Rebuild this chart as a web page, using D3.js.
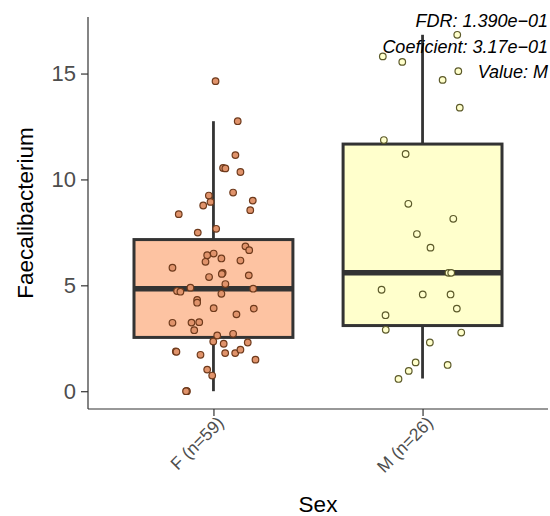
<!DOCTYPE html>
<html>
<head>
<meta charset="utf-8">
<script src="https://cdn.jsdelivr.net/npm/d3@7"></script>
<style>
  body { margin: 0; background: #fff; }
  svg text { font-family: "Liberation Sans", Arial, Helvetica, sans-serif; }
</style>
</head>
<body>
<div id="chart"></div>
<script>
// categories on x axis
const categories = ["F (n=59)", "M (n=26)"];
const boxFills = ["#fdc3a2", "#ffffcc"];
const pointFills = ["#e0936b", "#ffffcc"];
const pointStrokes = ["#6e3a1c", "#5c5a2a"];

// box stats: [lower whisker, q1, median, q3, upper whisker]
const boxF = [0, 2.54, 4.84, 7.16, 12.75];
const boxM = [0.6, 3.10, 5.59, 11.67, 16.83];

// jittered points: [x jitter (category units), value]
const pointsF = [
  [0.010, 14.64], [0.116, 12.75], [0.105, 11.15], [0.046, 10.54], [0.057, 10.52],
  [0.129, 10.35], [0.094, 9.38], [-0.022, 9.24], [-0.014, 8.94], [-0.049, 8.77],
  [0.188, 9.00], [0.176, 8.55], [-0.166, 8.36], [0.013, 7.67], [-0.075, 7.49],
  [0.153, 6.84], [0.171, 6.66], [-0.030, 6.42], [0.001, 6.50], [0.038, 6.27],
  [-0.038, 6.11], [0.129, 6.17], [-0.196, 5.83], [0.044, 5.59], [0.040, 5.54],
  [-0.021, 5.39], [0.169, 5.47], [0.057, 5.06], [-0.174, 4.73], [-0.158, 4.70],
  [-0.110, 4.89], [0.190, 4.84], [0.038, 4.60], [-0.078, 4.31], [-0.078, 4.18],
  [0.001, 3.92], [0.193, 3.90], [0.110, 3.63], [-0.196, 3.23], [-0.105, 3.24],
  [-0.068, 3.26], [-0.092, 2.88], [0.018, 2.63], [0.094, 2.71], [-0.001, 2.35],
  [0.164, 2.30], [0.049, 2.24], [-0.180, 1.88], [-0.177, 1.86], [-0.062, 1.72],
  [0.056, 1.80], [0.104, 1.80], [0.129, 1.96], [0.201, 1.49], [-0.030, 1.02],
  [-0.006, 0.74], [-0.129, 0], [-0.127, 0], [-0.131, 0]
];
const pointsM = [
  [0.166, 16.83], [-0.190, 15.81], [-0.097, 15.55], [0.171, 15.11], [0.096, 14.70],
  [0.178, 13.39], [-0.185, 11.86], [-0.081, 11.20], [-0.068, 8.85], [0.147, 8.14],
  [-0.027, 7.42], [0.038, 6.78], [0.124, 5.59], [0.137, 5.59], [-0.196, 4.79],
  [0.001, 4.57], [0.134, 4.57], [0.164, 3.90], [-0.177, 3.59], [-0.176, 2.90],
  [0.185, 2.77], [0.035, 2.30], [0.120, 1.24], [-0.033, 1.36], [-0.066, 0.96],
  [-0.115, 0.58]
];

const yTicks = [0, 5, 10, 15];
const annotation = ["FDR: 1.390e\u221201", "Coeficient: 3.17e\u221201", "Value: M"];

const width = 550, height = 516;
const panel = { left: 88, right: 548, top: 17, bottom: 409 };

const svg = d3.select("#chart").append("svg")
  .attr("width", width)
  .attr("height", height);

// 离散 x 轴: 位置 1, 2，扩展 0.6
const x = d3.scaleLinear().domain([0.4, 2.6]).range([panel.left, panel.right]);
const y = d3.scaleLinear().domain([-0.84, 17.67]).range([panel.bottom, panel.top]);

const boxes = [boxF, boxM];
const pointSets = [pointsF, pointsM];
const boxHalf = 0.38;
const dark = "#333333";

boxes.forEach((b, i) => {
  const cx = x(i + 1);
  const g = svg.append("g");
  // whiskers
  g.append("line")
    .attr("x1", cx).attr("x2", cx)
    .attr("y1", y(b[0])).attr("y2", y(b[1]))
    .attr("stroke", dark).attr("stroke-width", 2.8);
  g.append("line")
    .attr("x1", cx).attr("x2", cx)
    .attr("y1", y(b[3])).attr("y2", y(b[4]))
    .attr("stroke", dark).attr("stroke-width", 2.8);
  // box
  g.append("rect")
    .attr("x", x(i + 1 - boxHalf))
    .attr("y", y(b[3]))
    .attr("width", x(i + 1 + boxHalf) - x(i + 1 - boxHalf))
    .attr("height", y(b[1]) - y(b[3]))
    .attr("fill", boxFills[i])
    .attr("stroke", dark)
    .attr("stroke-width", 3);
  // median
  g.append("line")
    .attr("x1", x(i + 1 - boxHalf)).attr("x2", x(i + 1 + boxHalf))
    .attr("y1", y(b[2])).attr("y2", y(b[2]))
    .attr("stroke", dark).attr("stroke-width", 5.5);
});

// 散点
pointSets.forEach((pts, i) => {
  svg.append("g").selectAll("circle")
    .data(pts)
    .enter()
    .append("circle")
    .attr("cx", d => x(i + 1 + d[0]))
    .attr("cy", d => y(d[1]))
    .attr("r", 3.3)
    .attr("fill", pointFills[i])
    .attr("stroke", pointStrokes[i])
    .attr("stroke-width", 1.2);
});

// axes
const axisColor = "#333333";
const tickText = "#4d4d4d";

const yAxis = svg.append("g")
  .attr("transform", `translate(${panel.left},0)`)
  .call(d3.axisLeft(y).tickValues(yTicks).tickSize(7).tickPadding(5).tickFormat(d3.format("d")));
yAxis.select(".domain").attr("d", `M0,${panel.top}V${panel.bottom}`).attr("stroke", axisColor).attr("stroke-width", 1.2);
yAxis.selectAll(".tick line").attr("stroke", axisColor).attr("stroke-width", 1.2);
yAxis.selectAll(".tick text").attr("fill", tickText).attr("font-size", 22);

const xAxis = svg.append("g")
  .attr("transform", `translate(0,${panel.bottom})`)
  .call(d3.axisBottom(x).tickValues([1, 2]).tickSize(7).tickFormat(d => categories[d - 1]));
xAxis.select(".domain").attr("d", `M${panel.left},0H${panel.right}`).attr("stroke", axisColor).attr("stroke-width", 1.2);
xAxis.selectAll(".tick line").attr("stroke", axisColor).attr("stroke-width", 1.2);
xAxis.selectAll(".tick text")
  .attr("fill", tickText)
  .attr("font-size", 17.5)
  .attr("text-anchor", "end")
  .attr("x", 0).attr("y", 0).attr("dy", 0)
  .attr("transform", "translate(11,15) rotate(-45)");

// axis titles
svg.append("text")
  .attr("x", (panel.left + panel.right) / 2)
  .attr("y", 512)
  .attr("text-anchor", "middle")
  .attr("font-size", 22.5)
  .attr("fill", "#000")
  .text("Sex");

svg.append("text")
  .attr("transform", `translate(33,${(panel.top + panel.bottom) / 2}) rotate(-90)`)
  .attr("text-anchor", "middle")
  .attr("font-size", 22.5)
  .attr("fill", "#000")
  .text("Faecalibacterium");

// 右上角注释
svg.append("g").selectAll("text")
  .data(annotation)
  .enter()
  .append("text")
  .attr("x", 548)
  .attr("y", (d, i) => 27 + i * 25.5)
  .attr("text-anchor", "end")
  .attr("font-size", 18)
  .attr("font-style", "italic")
  .attr("fill", "#000")
  .text(d => d);
</script>
</body>
</html>
